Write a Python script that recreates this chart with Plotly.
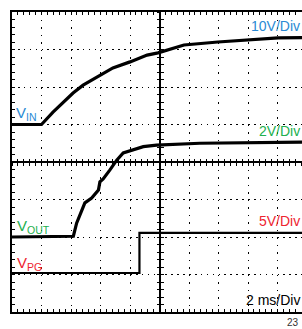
import plotly.graph_objects as go

# time in ms (2 ms/div), levels in screen divisions from centre
vin_t = [-10, -8, -7.22, -6.54, -5.86, -5.18, -4.24, -3.16, -2.0, -0.84, -0.1, 1.66, 3.96, 6.14, 8.04, 10]
vin_v = [1.0, 1.0, 1.33, 1.6, 1.84, 2.05, 2.27, 2.51, 2.67, 2.85, 2.91, 3.12, 3.2, 3.25, 3.31, 3.32]

vout_t = [-10, -5.84, -5.62, -5.28, -5.06, -4.6, -4.14, -4.04, -3.82, -3.36, -2.9, -2.46, -1.88, -1.1, -0.2, 2.74, 10]
vout_v = [-2.0, -1.98, -1.63, -1.28, -1.09, -0.96, -0.75, -0.53, -0.45, -0.21, 0.05, 0.24, 0.32, 0.41, 0.45, 0.5, 0.53]

vpg_t = [-10, -1.36, -1.36, 10]
vpg_v = [-2.96, -2.96, -1.89, -1.89]

BLUE = "#2a8ad4"
GREEN = "#22b04e"
RED = "#ee2430"
FONT = "Liberation Sans, Arial, sans-serif"

fig = go.Figure()
fig.add_trace(go.Scatter(x=vin_t, y=vin_v, mode="lines", line=dict(color="black", width=3.2), showlegend=False))
fig.add_trace(go.Scatter(x=vout_t, y=vout_v, mode="lines", line=dict(color="black", width=3.2), showlegend=False))
fig.add_trace(go.Scatter(x=vpg_t, y=vpg_v, mode="lines", line=dict(color="black", width=2.2), showlegend=False))
# invisible traces to make centre tick axes render
for xa, ya in [("x2", "y"), ("x3", "y"), ("x", "y2"), ("x", "y3")]:
    fig.add_trace(go.Scatter(x=[None], y=[None], xaxis=xa, yaxis=ya, showlegend=False, hoverinfo="skip"))

XR = [-10, 9.66]
YR = [-4, 4]

common = dict(showticklabels=False, tickcolor="black", ticklen=3, tickwidth=1)

fig.update_layout(
    width=302, height=329, autosize=False,
    margin=dict(l=12, r=0, t=12, b=17, pad=0),
    paper_bgcolor="white", plot_bgcolor="white",
    xaxis=dict(range=XR, dtick=2, tick0=0, showgrid=True, gridcolor="black", gridwidth=1,
               griddash="1.6px,5.9px", showline=True, linecolor="black", linewidth=2,
               mirror="allticks", ticks="inside",
               minor=dict(dtick=0.4, tick0=0, ticks="inside", ticklen=3, tickcolor="black", showgrid=False),
               zeroline=True, zerolinecolor="black", zerolinewidth=1.5, **common),
    yaxis=dict(range=YR, dtick=1, tick0=0, showgrid=True, gridcolor="black", gridwidth=1,
               griddash="1.6px,4.3px", showline=True, linecolor="black", linewidth=2,
               mirror=False, ticks="inside",
               minor=dict(dtick=0.2, tick0=0, ticks="inside", ticklen=3, tickcolor="black", showgrid=False),
               zeroline=True, zerolinecolor="black", zerolinewidth=1.5, **common),
    xaxis2=dict(range=XR, overlaying="x", anchor="free", position=0.5, side="bottom",
                dtick=0.4, tick0=0, ticks="outside", showgrid=False, zeroline=False, showline=False, **common),
    xaxis3=dict(range=XR, overlaying="x", anchor="free", position=0.5, side="bottom",
                dtick=0.4, tick0=0, ticks="inside", showgrid=False, zeroline=False, showline=False, **common),
    yaxis2=dict(range=YR, overlaying="y", anchor="free", position=10 / 19.66, side="left",
                dtick=0.2, tick0=0, ticks="outside", showgrid=False, zeroline=False, showline=False, **common),
    yaxis3=dict(range=YR, overlaying="y", anchor="free", position=10 / 19.66, side="left",
                dtick=0.2, tick0=0, ticks="inside", showgrid=False, zeroline=False, showline=False, **common),
)

def px2paper(px, py):
    return (px - 12) / 290.0, (312 - py) / 300.0

anns = [
    ("10V/Div", 301, 26, "right", BLUE, 14),
    ("2V/Div", 301, 131, "right", GREEN, 14),
    ("5V/Div", 301, 221, "right", RED, 14),
    ("2 ms/Div", 301, 300, "right", "black", 14),
    ("V<sub>IN</sub>", 15, 113, "left", BLUE, 15),
    ("V<sub>OUT</sub>", 16, 226, "left", GREEN, 15),
    ("V<sub>PG</sub>", 16, 263, "left", RED, 15),
    ("23", 286, 322, "left", "#333333", 10),
]
for text, px, py, xa, col, size in anns:
    x, y = px2paper(px, py)
    fig.add_annotation(text=text, x=x, y=y, xref="paper", yref="paper", xanchor=xa, yanchor="middle",
                       showarrow=False, font=dict(family=FONT, size=size, color=col),
                       bgcolor="rgba(0,0,0,0)", borderpad=0)

fig.write_html("out.html", config={"displayModeBar": False},
               post_script="document.body.style.margin='0';")
